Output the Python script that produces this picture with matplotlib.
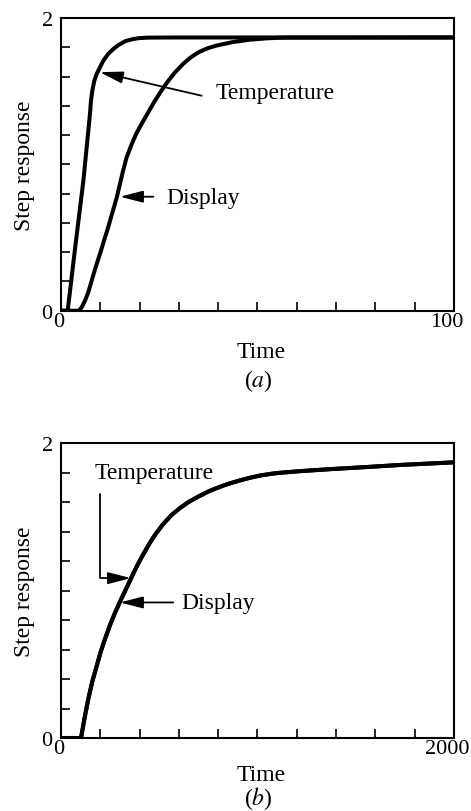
import matplotlib
matplotlib.use("Agg")
import matplotlib.pyplot as plt
from matplotlib.transforms import ScaledTranslation

plt.rcParams["font.family"] = ["Liberation Serif", "DejaVu Serif"]
plt.rcParams["mathtext.fontset"] = "stix"

# (a) short time scale
time_temp_a = [0, 1.7, 3.6, 5.7, 7.37, 7.63, 7.97, 8.48, 9.07, 9.92, 10.76, 12.0,
               13.3, 14.6, 16.3, 18.0, 19.65, 22.2, 30, 100]
temp_a = [0, 0, 0.43, 0.89, 1.344, 1.435, 1.503, 1.572, 1.617, 1.663, 1.708, 1.754,
          1.788, 1.815, 1.841, 1.854, 1.862, 1.866, 1.867, 1.867]

time_disp_a = [0, 4.58, 5.25, 6.1, 6.95, 7.8, 8.8, 9.9, 12.0, 14.2, 15.8, 16.7,
               18.0, 19.2, 20.5, 22.2, 23.9, 25.6, 27.0, 29.0, 31.1, 33.2, 35.3,
               37.5, 39.6, 43.8, 48.1, 52.3, 56.5, 100]
disp_a = [0, 0, 0.023, 0.068, 0.126, 0.205, 0.296, 0.387, 0.57, 0.775, 0.957, 1.048,
          1.139, 1.212, 1.276, 1.356, 1.435, 1.505, 1.56, 1.628, 1.687, 1.735, 1.77,
          1.795, 1.812, 1.836, 1.852, 1.861, 1.866, 1.867]

# (b) long time scale - both curves sit on top of each other
time_b = [0, 102, 119, 139, 159, 182, 202, 224, 249, 275, 309, 334, 360, 385, 410,
          444, 478, 520, 563, 605, 647, 698, 755, 809, 859, 910, 961, 1012, 1063,
          1114, 1215, 1385, 1555, 1724, 1893, 2000]
temp_b = [0, 0, 0.129, 0.265, 0.382, 0.49, 0.585, 0.672, 0.765, 0.85, 0.95, 1.02,
          1.094, 1.163, 1.226, 1.306, 1.378, 1.452, 1.514, 1.560, 1.600, 1.638, 1.676,
          1.705, 1.728, 1.748, 1.766, 1.781, 1.792, 1.800, 1.811, 1.826, 1.839, 1.853,
          1.864, 1.871]
disp_b = temp_b

yticks = [0, 0.2, 0.4, 0.6, 0.8, 1.0, 1.2, 1.4, 1.6, 1.8, 2.0]
ytick_labels = ["0", "", "", "", "", "", "", "", "", "", "2"]
xticks_a = [0, 10, 20, 30, 40, 50, 60, 70, 80, 90, 100]
xticks_b = [0, 200, 400, 600, 800, 1000, 1200, 1400, 1600, 1800, 2000]
xtick_labels_a = ["0", "", "", "", "", "", "", "", "", "", "100"]
xtick_labels_b = ["0", "", "", "", "", "", "", "", "", "", "2000"]

FS = 17
arrow = dict(arrowstyle="-|>,head_length=0.7,head_width=0.18", color="black",
             lw=1.3, shrinkA=0, shrinkB=0, mutation_scale=20)


def style_axes(ax, xticks, xlabels, xmax, xlabel_y):
    ax.set_xlim(0, xmax)
    ax.set_ylim(0, 2)
    ax.set_xticks(xticks, xlabels)
    ax.set_yticks(yticks, ytick_labels)
    ax.tick_params(direction="in", length=6.5, width=1.2, labelsize=16)
    ax.tick_params(axis="y", pad=6)
    ax.tick_params(axis="x", pad=1)
    for s in ax.spines.values():
        s.set_linewidth(1.5)
    ax.set_ylabel("Step response", fontsize=FS, va="center")
    ax.yaxis.set_label_coords(-0.092, 0.5)
    ax.set_xlabel("Time", fontsize=FS, va="baseline")
    ax.xaxis.set_label_coords(0.51, xlabel_y)
    # end labels sit a little left of their ticks in the original
    for lab, dx in ((ax.get_xticklabels()[-1], -7), (ax.get_xticklabels()[0], -2)):
        lab.set_transform(lab.get_transform() +
                          ScaledTranslation(dx / 100, 0, fig.dpi_scale_trans))


fig = plt.figure(figsize=(4.71, 8.12), dpi=100)

ax1 = fig.add_axes([0.1295, 0.6161, 0.8344, 0.3605])
ax1.plot(time_temp_a, temp_a, color="black", lw=2.9, solid_joinstyle="round")
ax1.plot(time_disp_a, disp_a, color="black", lw=2.9, solid_joinstyle="round")
style_axes(ax1, xticks_a, xtick_labels_a, 100, -0.159)
ax1.annotate("", xy=(9.9, 1.63), xytext=(35.8, 1.469), arrowprops=arrow)
ax1.text(39.4, 1.49, "Temperature", fontsize=FS, va="center", ha="left")
ax1.annotate("", xy=(15.0, 0.779), xytext=(23.5, 0.779), arrowprops=arrow)
ax1.text(26.9, 0.775, "Display", fontsize=FS, va="center", ha="left")
fig.text(0.548, 0.5237, r"($\mathit{a}$)", fontsize=FS, ha="center", va="baseline")

ax2 = fig.add_axes([0.1295, 0.0899, 0.8344, 0.3629])
ax2.plot(time_b, temp_b, color="black", lw=2.9, solid_joinstyle="round")
ax2.plot(time_b, disp_b, color="black", lw=2.9, solid_joinstyle="round")
style_axes(ax2, xticks_b, xtick_labels_b, 2000, -0.143)
ax2.text(173, 1.803, "Temperature", fontsize=FS, va="center", ha="left")
ax2.annotate("", xy=(356, 1.085), xytext=(198, 1.656),
             arrowprops=dict(arrow, connectionstyle="angle,angleA=90,angleB=0,rad=0"))
ax2.annotate("", xy=(300, 0.92), xytext=(571, 0.92), arrowprops=arrow)
ax2.text(610, 0.92, "Display", fontsize=FS, va="center", ha="left")
fig.text(0.548, 0.0085, r"($\mathit{b}$)", fontsize=FS, ha="center", va="baseline")

fig.savefig("out.png", dpi=100)
